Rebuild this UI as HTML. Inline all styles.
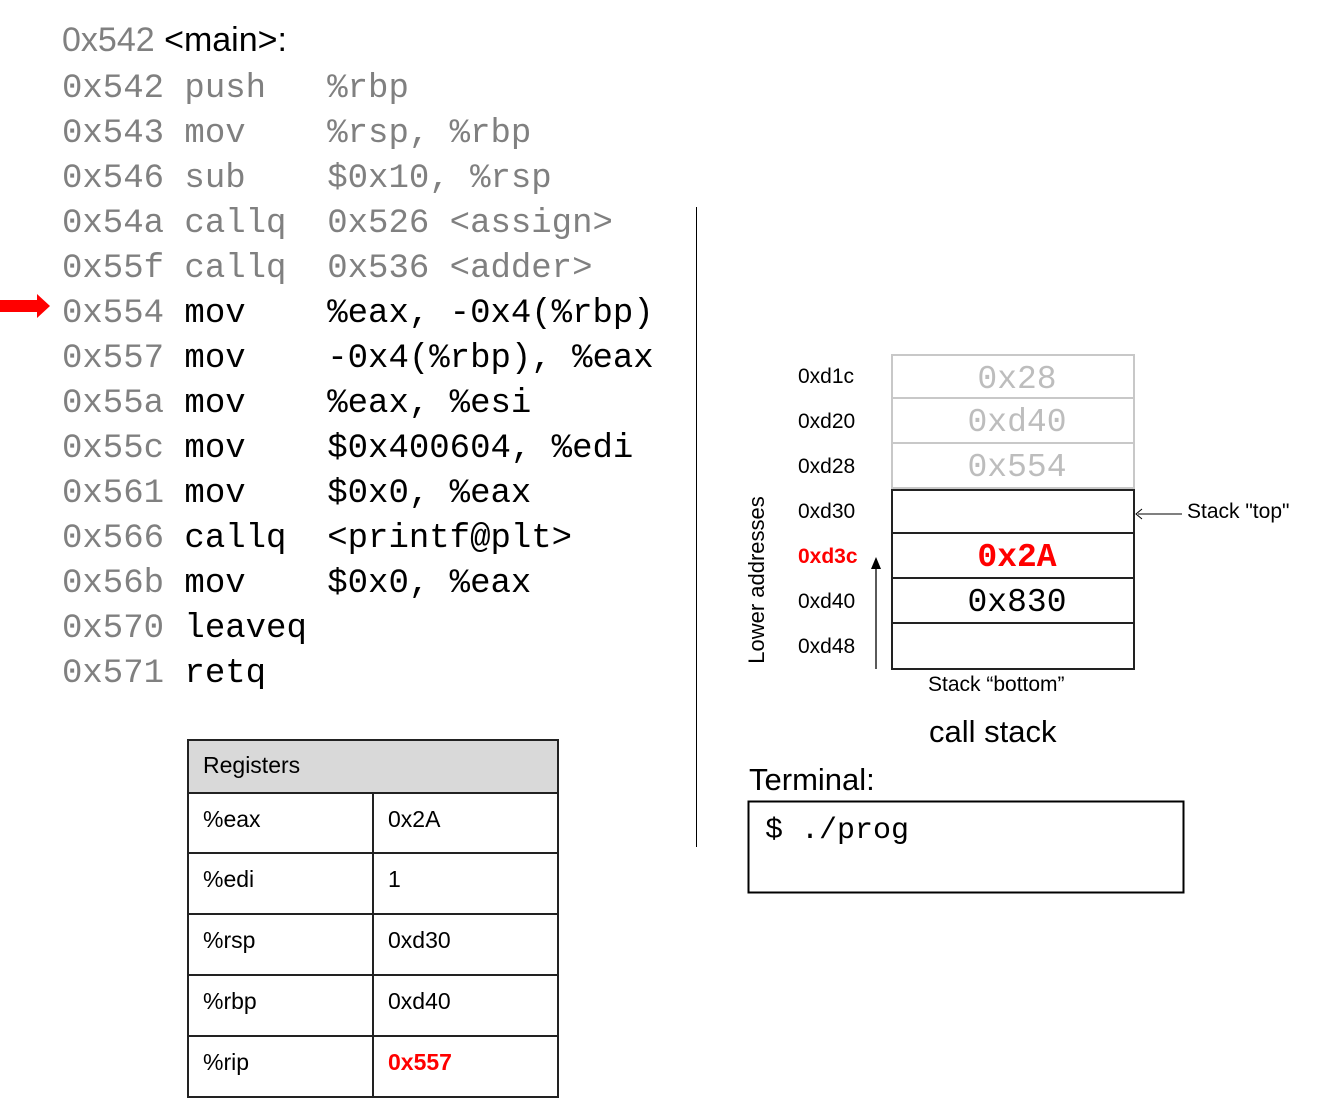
<!DOCTYPE html>
<html><head><meta charset="utf-8"><style>
body{margin:0;width:1334px;height:1098px;background:#fff;position:relative;overflow:hidden;font-family:"Liberation Sans",sans-serif}
.a{position:absolute;white-space:pre}
.code{font-family:"Liberation Mono",monospace;font-size:34px;line-height:44px;height:44px;left:62px}
.g{color:#808080}
.k{color:#000}
.lbl{font-size:21px;line-height:24px;left:798px}
.cell{position:absolute;left:891px;width:244px;height:45px;box-sizing:border-box;text-align:center;font-family:"Liberation Mono",monospace;font-size:33px;line-height:47px;padding-left:8px}
table{position:absolute;left:187px;top:739px;border-collapse:collapse;font-size:23px}
td{border:2px solid #222;height:57px;padding:0 0 8px 14px;box-sizing:border-box}
</style></head><body>
<div class="a" style="left:62px;top:18px;font-size:34px;line-height:44px"><span class="g">0x542</span> <span class="k">&lt;main&gt;:</span></div>
<div class="a code g" style="top:67px">0x542 push   %rbp</div>
<div class="a code g" style="top:112px">0x543 mov    %rsp, %rbp</div>
<div class="a code g" style="top:157px">0x546 sub    $0x10, %rsp</div>
<div class="a code g" style="top:202px">0x54a callq  0x526 &lt;assign&gt;</div>
<div class="a code g" style="top:247px">0x55f callq  0x536 &lt;adder&gt;</div>
<div class="a code g" style="top:292px">0x554 <span class="k">mov    %eax, -0x4(%rbp)</span></div>
<div class="a code g" style="top:337px">0x557 <span class="k">mov    -0x4(%rbp), %eax</span></div>
<div class="a code g" style="top:382px">0x55a <span class="k">mov    %eax, %esi</span></div>
<div class="a code g" style="top:427px">0x55c <span class="k">mov    $0x400604, %edi</span></div>
<div class="a code g" style="top:472px">0x561 <span class="k">mov    $0x0, %eax</span></div>
<div class="a code g" style="top:517px">0x566 <span class="k">callq  &lt;printf@plt&gt;</span></div>
<div class="a code g" style="top:562px">0x56b <span class="k">mov    $0x0, %eax</span></div>
<div class="a code g" style="top:607px">0x570 <span class="k">leaveq</span></div>
<div class="a code g" style="top:652px">0x571 <span class="k">retq</span></div>

<svg class="a" style="left:0;top:0" width="1334" height="1098">
<polygon points="0,300 37,300 37,294 50,306 37,318 37,312 0,312" fill="#f00"/>
<line x1="696.5" y1="207" x2="696.5" y2="847" stroke="#000" stroke-width="1"/>
<line x1="876" y1="669" x2="876" y2="566" stroke="#000" stroke-width="1.3"/>
<polygon points="876,557 871,569 881,569" fill="#000"/>
<line x1="1182" y1="514" x2="1138" y2="514" stroke="#000" stroke-width="1"/>
<polyline points="1142,509 1136,514 1142,519" fill="none" stroke="#000" stroke-width="1"/>
<rect x="748.5" y="801.5" width="435" height="91" fill="none" stroke="#000" stroke-width="2"/>
</svg>

<div class="cell" style="top:354px;border:2px solid #c8c8c8;color:#bdbdbd">0x28</div>
<div class="cell" style="top:399px;border:2px solid #c8c8c8;border-top:0;color:#bdbdbd">0xd40</div>
<div class="cell" style="top:444px;border:2px solid #c8c8c8;border-top:0;color:#bdbdbd">0x554</div>
<div class="cell" style="top:489px;border:2px solid #222"></div>
<div class="cell" style="top:534px;border:2px solid #222;border-top:0;color:#f00;font-weight:bold">0x2A</div>
<div class="cell" style="top:579px;border:2px solid #222;border-top:0">0x830</div>
<div class="cell" style="top:624px;border:2px solid #222;border-top:0;height:46px"></div>

<div class="a lbl" style="top:365px">0xd1c</div>
<div class="a lbl" style="top:410px">0xd20</div>
<div class="a lbl" style="top:455px">0xd28</div>
<div class="a lbl" style="top:500px">0xd30</div>
<div class="a lbl" style="top:545px;color:#f00;font-weight:bold">0xd3c</div>
<div class="a lbl" style="top:590px">0xd40</div>
<div class="a lbl" style="top:635px">0xd48</div>
<div class="a" style="left:757px;top:580px;font-size:22px;line-height:24px;transform:translate(-50%,-50%) rotate(-90deg)">Lower addresses</div>
<div class="a" style="left:1187px;top:500px;font-size:21px;line-height:24px">Stack "top"</div>
<div class="a" style="left:928px;top:673px;font-size:21px;line-height:24px">Stack “bottom”</div>
<div class="a" style="left:929px;top:713px;font-size:31px;line-height:38px">call stack</div>
<div class="a" style="left:749px;top:761px;font-size:31px;line-height:38px">Terminal:</div>
<div class="a" style="left:765px;top:812px;font-family:'Liberation Mono',monospace;font-size:30px;line-height:38px">$ ./prog</div>

<table>
<tr><td colspan="2" style="background:#d9d9d9;height:53px;padding-bottom:2px">Registers</td></tr>
<tr><td style="width:185px;height:60px">%eax</td><td style="width:185px">0x2A</td></tr>
<tr><td style="height:61px">%edi</td><td>1</td></tr>
<tr><td style="height:61px">%rsp</td><td>0xd30</td></tr>
<tr><td style="height:61px">%rbp</td><td>0xd40</td></tr>
<tr><td style="height:61px">%rip</td><td style="color:#f00;font-weight:bold">0x557</td></tr>
</table>
</body></html>
